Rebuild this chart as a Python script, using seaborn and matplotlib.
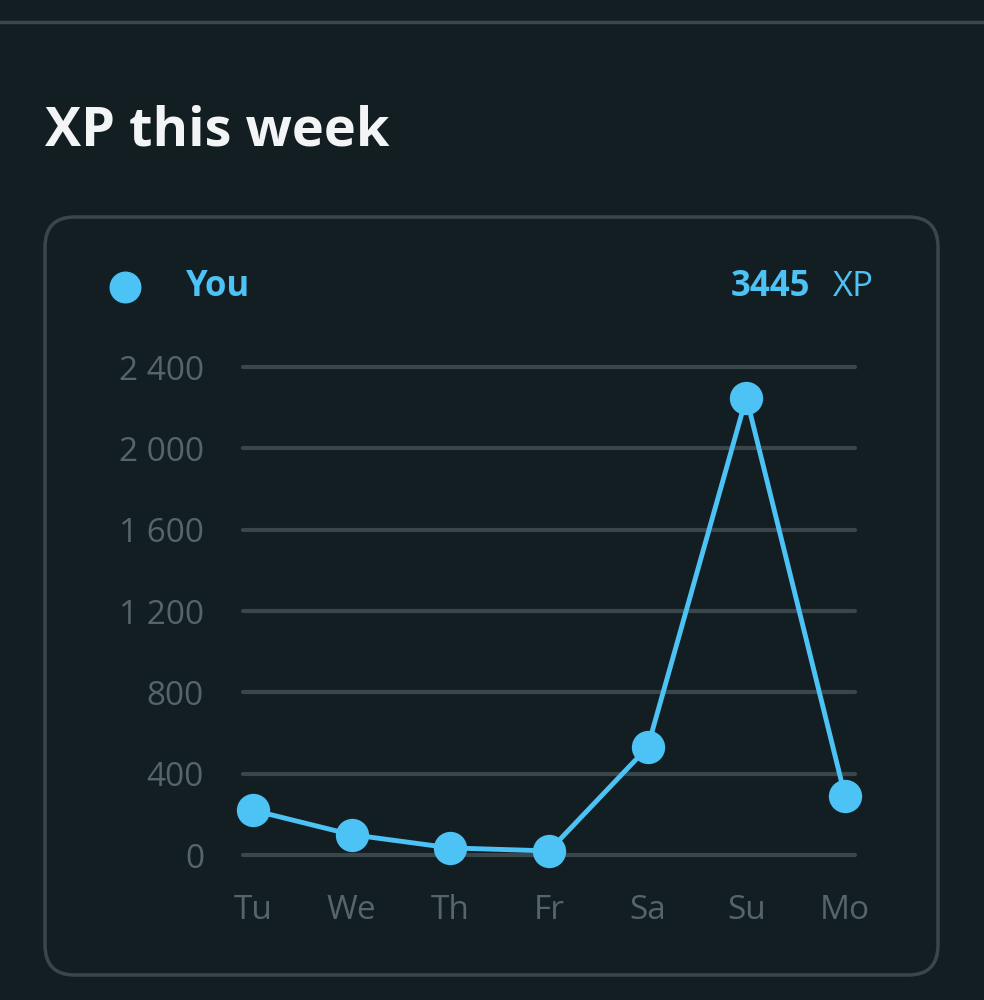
import matplotlib
matplotlib.use("Agg")
import matplotlib.pyplot as plt
import seaborn as sns
import pandas as pd
from matplotlib.patches import FancyBboxPatch
from matplotlib.lines import Line2D

days = ["Tu", "We", "Th", "Fr", "Sa", "Su", "Mo"]
xp = [220, 100, 35, 20, 530, 2250, 290]
yticks = [0, 400, 800, 1200, 1600, 2000, 2400]
ytick_labels = ["0", "400", "800", "1 200", "1 600", "2 000", "2 400"]
total_label = "3445"

sns.set_theme(style="dark")
plt.rcParams['font.family'] = ['Open Sans', 'DejaVu Sans']
bg = "#131e22"
blue = "#4cc2f5"
W, H = 984, 1000
fig = plt.figure(figsize=(W/100, H/100), dpi=100, facecolor=bg)

fig.add_artist(Line2D([0, 1], [1-22/H, 1-22/H], color="#3a464c", lw=2.5, transform=fig.transFigure))
fig.text(45/W, 1-132/H, "XP this week", color="#f2f4f5", fontsize=39, fontweight="bold", va="center")
box = FancyBboxPatch((45/W, 1-975/H), (938-45)/W, (975-217)/H,
                     boxstyle="round,pad=0,rounding_size=0.03", transform=fig.transFigure,
                     facecolor="none", edgecolor="#3a464c", lw=2.5)
fig.add_artist(box)
fig.add_artist(Line2D([125/W], [1-287/H], marker="o", ms=22, color=blue, transform=fig.transFigure))
fig.text(186/W, 1-287/H, "You", color=blue, fontsize=25, fontweight="bold", va="center")
fig.text(874/W, 1-287/H, "XP", color=blue, fontsize=25, va="center", ha="right")
fig.text(810/W, 1-287/H, total_label, color=blue, fontsize=25, fontweight="bold", va="center", ha="right")

ax = fig.add_axes([243/W, 1-855/H, (855-243)/W, (855-367)/H])
ax.set_facecolor("none")
df = pd.DataFrame({"day": range(len(days)), "xp": xp})
sns.lineplot(data=df, x="day", y="xp", ax=ax, color=blue, lw=3.5, marker="o",
             markersize=24, markeredgewidth=0, clip_on=False, zorder=5)
ax.set_xlim(-0.101, 6.101)
ax.set_ylim(0, 2400)
for y in yticks:
    ax.axhline(y, color="#3a464c", lw=3, zorder=1, clip_on=False)
ax.set_yticks(yticks)
ax.set_yticklabels(ytick_labels)
ax.set_xticks(range(len(days)))
ax.set_xticklabels(days)
ax.tick_params(colors="#56646b", labelsize=24, length=0)
ax.tick_params(axis="y", pad=28)
ax.tick_params(axis="x", pad=28)
for l in ax.get_xticklabels() + ax.get_yticklabels():
    l.set_color("#56646b")
ax.set_xlabel(""); ax.set_ylabel("")
ax.grid(False)
for s in ax.spines.values():
    s.set_visible(False)
fig.savefig("out.png", dpi=100, facecolor=bg)
